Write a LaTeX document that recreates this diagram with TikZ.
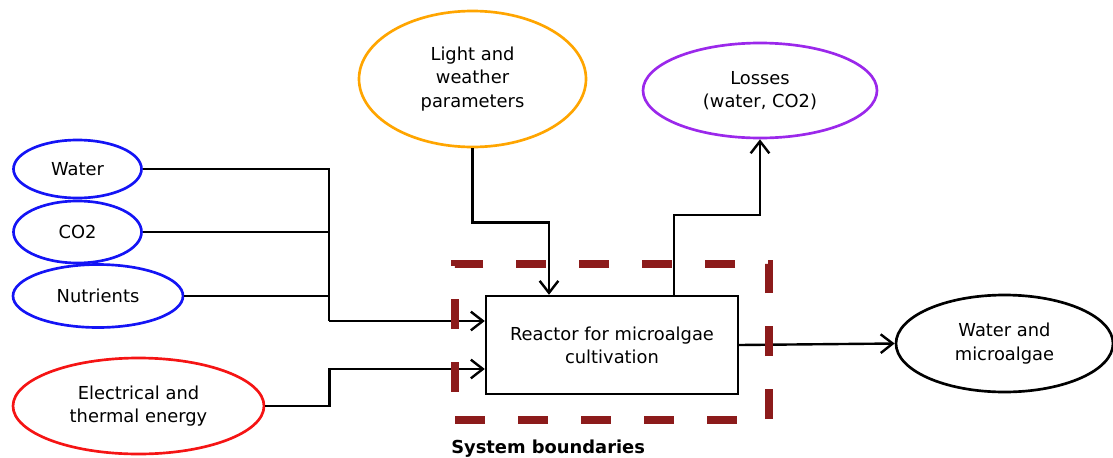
\documentclass[tikz,border=0pt]{standalone}
\usepackage{fontspec}
\setmainfont{DejaVu Sans}
\usepackage{tikz}
\usetikzlibrary{positioning,shapes.geometric,arrows.meta}
\definecolor{Cazul}{RGB}{20,20,245}
\definecolor{Cverm}{RGB}{245,20,20}
\definecolor{Claranja}{RGB}{255,165,0}
\definecolor{Croxo}{RGB}{155,40,235}
\definecolor{Cborda}{RGB}{140,27,27}
\tikzset{
  elip/.style={draw, ellipse, line width=2pt, inner sep=0pt,
               align=center, font=\fontsize{13.4}{17.5}\selectfont},
  link/.style={line width=1.8pt},
  flow/.style={line width=1.8pt, -{Straight Barb[length=9pt,width=14pt]}}
}

\begin{document}
\begin{tikzpicture}[x=0.75pt, y=-0.75pt]
  \useasboundingbox (0,0) rectangle (1113,457);
  % entradas
  \node[elip, draw=Cazul, minimum width=96pt, minimum height=43.5pt]
    (water) at (77.5,169) {Water};
  \node[elip, draw=Cazul, minimum width=96pt, minimum height=46.5pt]
    (co2) at (77.5,232) {CO2};
  \node[elip, draw=Cazul, minimum width=127.5pt, minimum height=47.25pt]
    (nutr) at (98,296) {Nutrients};
  \node[elip, draw=Cverm, minimum width=188.25pt, minimum height=72pt]
    (energy) at (138.5,406) {Electrical and\\thermal energy};
  \node[elip, draw=Claranja, minimum width=170.25pt, minimum height=102pt]
    (light) at (472.5,79) {Light and\\weather\\parameters};
  % reator e saidas
  \node[draw, fill=white, line width=1.8pt, minimum width=189pt, minimum height=73.5pt,
        align=center, font=\fontsize{13.4}{17.5}\selectfont]
    (reactor) at (612,345) {Reactor for microalgae\\cultivation};
  \node[elip, draw=Croxo, minimum width=175.5pt, minimum height=71.25pt]
    (losses) at (760,90.5) {Losses\\(water, CO2)};
  \node[elip, draw=black, minimum width=162.75pt, minimum height=72.75pt]
    (product) at (1004.5,343.5) {Water and\\microalgae};

  \coordinate (join) at (329,321);
  \draw[link] (water.east) -| (join);
  \draw[link] (co2.east) -- (co2.east -| join);
  \draw[link] (nutr.east) -- (nutr.east -| join);
  \draw[flow] (join) -- ([yshift=18pt]reactor.west);
  \draw[flow] (energy.east) -- ++(64,0) |- ([yshift=-18pt]reactor.west);
  \draw[flow] (light.south) -- ++(0,74) -| ([xshift=-47.25pt]reactor.north);
  \draw[flow] ([xshift=46.5pt]reactor.north) -- ++(0,-80) -| (losses.south);
  \draw[flow] (reactor.east) -- (product.west);

  % fronteira do sistema
  \node[draw=Cborda, line width=6pt, dash pattern=on 22.5pt off 24.75pt,
        minimum width=235.5pt, minimum height=117pt]
    (bound) at (612,342) {};
  \node[inner sep=0pt, font=\fontsize{13.4}{15}\selectfont\bfseries,
        below right=12pt and 0pt of bound.south west]
    (boundlabel) {System boundaries};
\end{tikzpicture}
\end{document}
